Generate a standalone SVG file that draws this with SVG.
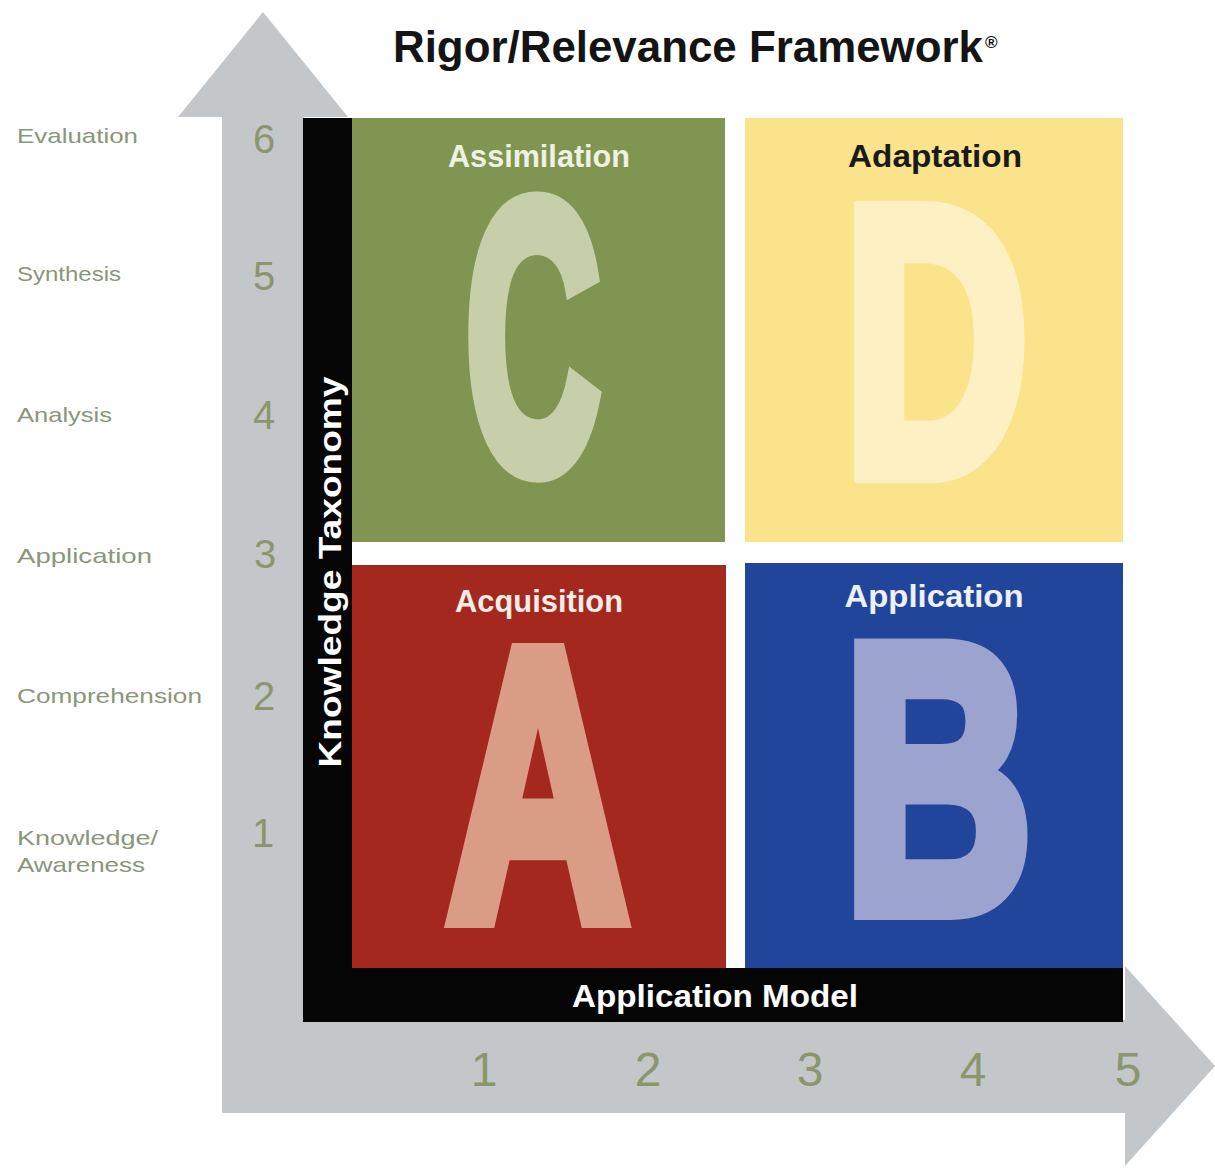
<svg xmlns="http://www.w3.org/2000/svg" width="1215" height="1170" viewBox="0 0 1215 1170">
  <style>
    .title { font-family: "Liberation Sans", Arial, sans-serif; font-weight: bold; fill: #141414; }
    .level { font-family: "Liberation Sans", Arial, sans-serif; font-size: 21px; fill: #8b957a; }
    .num { font-family: "Liberation Sans", Arial, sans-serif; fill: #8a966c; text-anchor: middle; }
    .axis { font-family: "Liberation Sans", Arial, sans-serif; font-weight: bold; fill: #ffffff; text-anchor: middle; }
    .qlabel { font-family: "Liberation Sans", Arial, sans-serif; font-weight: bold; font-size: 31px; text-anchor: middle; }
    .big { font-family: "Liberation Sans", Arial, sans-serif; font-weight: bold; text-anchor: middle; stroke-width: 20; stroke-linejoin: miter; stroke-miterlimit: 3; }
  </style>

  <rect x="0" y="0" width="1215" height="1170" fill="#ffffff"/>

  <!-- L-shaped double arrow: rigor (up) and relevance (right) -->
  <g id="axes-arrow">
    <path d="M263,12 L348,117 L304,117 L304,1020 L1125,1020 L1125,966 L1215,1066 L1125,1166 L1125,1113 L222,1113 L222,117 L178,117 Z" fill="#c4c7ca"/>
  </g>

  <!-- Title -->
  <g id="title">
    <text class="title" x="393" y="62" font-size="44" textLength="590" lengthAdjust="spacingAndGlyphs">Rigor/Relevance Framework</text>
    <text class="title" x="985" y="48" font-size="17">®</text>
  </g>

  <!-- Knowledge taxonomy levels -->
  <g id="levels">
    <text class="level" x="17" y="143" textLength="121" lengthAdjust="spacingAndGlyphs">Evaluation</text>
    <text class="level" x="17" y="281" textLength="104" lengthAdjust="spacingAndGlyphs">Synthesis</text>
    <text class="level" x="17" y="422" textLength="95" lengthAdjust="spacingAndGlyphs">Analysis</text>
    <text class="level" x="17" y="563" textLength="135" lengthAdjust="spacingAndGlyphs">Application</text>
    <text class="level" x="17" y="703" textLength="185" lengthAdjust="spacingAndGlyphs">Comprehension</text>
    <text class="level" x="17" y="845" textLength="141" lengthAdjust="spacingAndGlyphs">Knowledge/</text>
    <text class="level" x="17" y="872" textLength="128" lengthAdjust="spacingAndGlyphs">Awareness</text>
  </g>

  <!-- Vertical scale 1-6 -->
  <g id="rigor-scale">
    <text class="num" x="264" y="153" font-size="40">6</text>
    <text class="num" x="264" y="290" font-size="40">5</text>
    <text class="num" x="264" y="429" font-size="40">4</text>
    <text class="num" x="265" y="568" font-size="40">3</text>
    <text class="num" x="264" y="710" font-size="40">2</text>
    <text class="num" x="263" y="847" font-size="40">1</text>
  </g>

  <!-- Horizontal scale 1-5 -->
  <g id="relevance-scale">
    <text class="num" x="484" y="1086" font-size="48">1</text>
    <text class="num" x="648" y="1086" font-size="48">2</text>
    <text class="num" x="810" y="1086" font-size="48">3</text>
    <text class="num" x="973" y="1086" font-size="48">4</text>
    <text class="num" x="1128" y="1086" font-size="48">5</text>
  </g>

  <!-- Black axis bars -->
  <g id="knowledge-taxonomy-bar">
    <rect x="303" y="118" width="49" height="904" fill="#050505"/>
    <text class="axis" transform="translate(341,572) rotate(-90)" x="0" y="0" font-size="31" textLength="391" lengthAdjust="spacingAndGlyphs">Knowledge Taxonomy</text>
  </g>
  <g id="application-model-bar">
    <rect x="303" y="968" width="820" height="54" fill="#050505"/>
    <text class="axis" x="715" y="1007" font-size="31" textLength="286" lengthAdjust="spacingAndGlyphs">Application Model</text>
  </g>

  <!-- Quadrant C -->
  <g id="quadrant-c">
    <rect x="352" y="118" width="373" height="424" fill="#819552"/>
    <text class="big" x="533" y="469" font-size="383" fill="#c7cfaa" stroke="#c7cfaa" textLength="135" lengthAdjust="spacingAndGlyphs">C</text>
    <text class="qlabel" x="539" y="167" fill="#eef2e0" textLength="182" lengthAdjust="spacingAndGlyphs">Assimilation</text>
  </g>

  <!-- Quadrant D -->
  <g id="quadrant-d">
    <rect x="745" y="118" width="378" height="424" fill="#fbe38c"/>
    <text class="big" x="936" y="473" font-size="381" fill="#fdf1c4" stroke="#fdf1c4" textLength="185" lengthAdjust="spacingAndGlyphs">D</text>
    <text class="qlabel" x="935" y="167" fill="#1a1a1a" textLength="174" lengthAdjust="spacingAndGlyphs">Adaptation</text>
  </g>

  <!-- Quadrant A -->
  <g id="quadrant-a">
    <rect x="352" y="565" width="374" height="403" fill="#a5281f"/>
    <text class="big" x="538" y="918" font-size="385" fill="#d99d85" stroke="#d99d85" textLength="182" lengthAdjust="spacingAndGlyphs">A</text>
    <text class="qlabel" x="539" y="612" fill="#f7ece6" textLength="168" lengthAdjust="spacingAndGlyphs">Acquisition</text>
  </g>

  <!-- Quadrant B -->
  <g id="quadrant-b">
    <rect x="745" y="563" width="378" height="405" fill="#20459b"/>
    <text class="big" x="938" y="910" font-size="380" fill="#9ca3cf" stroke="#9ca3cf" textLength="189" lengthAdjust="spacingAndGlyphs">B</text>
    <text class="qlabel" x="934" y="607" fill="#eef0fa" textLength="179" lengthAdjust="spacingAndGlyphs">Application</text>
  </g>

  <g id="connectors"></g>
</svg>
